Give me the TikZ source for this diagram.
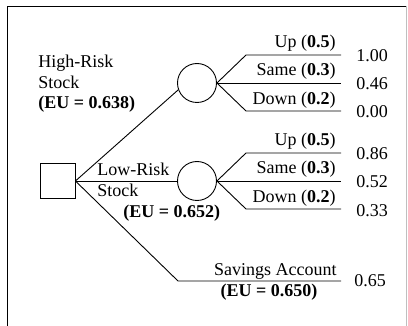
\documentclass[tikz,border=0pt]{standalone}
\usepackage{fontspec}
\setmainfont{Liberation Serif}
\begin{document}
\begin{tikzpicture}[x=1pt,y=-1pt, line width=0.9pt,
  txt/.style={font=\fontsize{18}{20.5}\selectfont, inner sep=0pt},
  lab/.style={txt, anchor=base east},
  val/.style={txt, anchor=base west},
  lft/.style={txt, anchor=base west},
  chance/.style={circle, draw, minimum size=39pt, inner sep=0pt},
  decision/.style={rectangle, draw, minimum size=35pt, inner sep=0pt}]
\useasboundingbox (0,0) rectangle (408,326);
% frame
\draw (7,326) -- (7,6) -- (406,6);
\draw[black!25, line width=0.6pt] (406,6) -- (406,326);
% nodes
\node[decision] (d) at (57.5,181) {};
\node[chance] (hr) at (197,83) {};
\node[chance] (lr) at (197,181) {};
% coordinates
\coordinate (sa1) at (178,281); \coordinate (sa2) at (341,281);
\coordinate (hu1) at (246,55);  \coordinate (hu2) at (341,55);
\coordinate (hs)  at (341,83);
\coordinate (hd1) at (246,111); \coordinate (hd2) at (341,111);
\coordinate (lu1) at (246,153); \coordinate (lu2) at (341,153);
\coordinate (ls)  at (341,181);
\coordinate (ld1) at (246,209); \coordinate (ld2) at (341,209);
% connectors
\draw (d.east) -- (hr.200);
\draw (d.east) -- (lr.west);
\draw (d.east) -- (sa1) -- (sa2);
\draw (hr.east) -- (hu1) -- (hu2);
\draw (hr.east) -- (hs);
\draw (hr.east) -- (hd1) -- (hd2);
\draw (lr.east) -- (lu1) -- (lu2);
\draw (lr.east) -- (ls);
\draw (lr.east) -- (ld1) -- (ld2);
% text
\node[lft] (hrt1) at (38,68) {High-Risk};
\node[lft] (hrt2) at (38,89) {Stock};
\node[lft] (hreu) at (38,109) {\textbf{(EU = 0.638)}};
\node[lft] (lrt1) at (97,176) {Low-Risk};
\node[lft] (lrt2) at (97,197) {Stock};
\node[lft] (lreu) at (123,218) {\textbf{(EU = 0.652)}};
\node[lab] (hul) at (336,48) {Up (\textbf{0.5})};
\node[lab] (hsl) at (336,76) {Same (\textbf{0.3})};
\node[lab] (hdl) at (336,105) {Down (\textbf{0.2})};
\node[lab] (lul) at (336,146) {Up (\textbf{0.5})};
\node[lab] (lsl) at (336,174) {Same (\textbf{0.3})};
\node[lab] (ldl) at (336,203) {Down (\textbf{0.2})};
\node[lab] (sal) at (337,276) {Savings Account};
\node[txt, anchor=base] (saeu) at (269,297) {\textbf{(EU = 0.650)}};
\node[val] (v1) at (356,62) {1.00};
\node[val] (v2) at (356,90) {0.46};
\node[val] (v3) at (356,118) {0.00};
\node[val] (v4) at (356,160) {0.86};
\node[val] (v5) at (356,188) {0.52};
\node[val] (v6) at (356,217) {0.33};
\node[val] (v7) at (354,287) {0.65};
\end{tikzpicture}
\end{document}
